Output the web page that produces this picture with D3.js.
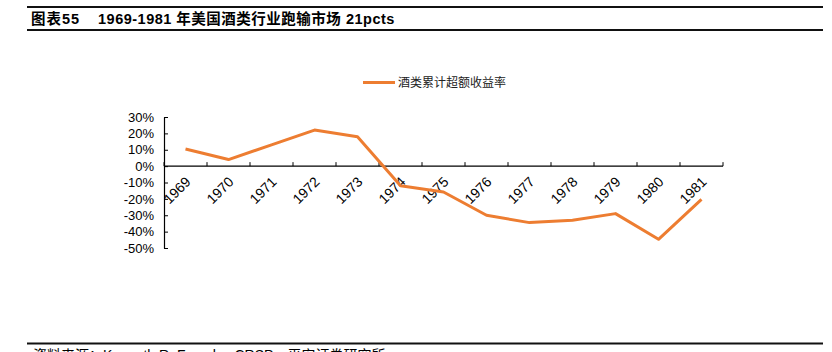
<!DOCTYPE html>
<html>
<head>
<meta charset="utf-8">
<script src="https://cdn.jsdelivr.net/npm/d3@7"></script>
<style>
  body { margin: 0; background: #fff; }
  text { font-family: "Liberation Sans", Arial, "Noto Sans CJK SC", sans-serif; }
</style>
</head>
<body>
<div id="chart-container"></div>
<script>
const years = ["1969", "1970", "1971", "1972", "1973", "1974", "1975",
  "1976", "1977", "1978", "1979", "1980", "1981"];
const excessReturn = [10.5, 4, 13, 22, 18, -12, -15.8, -30, -34.5, -33, -29, -44.7, -20.3];
const yTicks = [30, 20, 10, 0, -10, -20, -30, -40, -50];
const seriesName = "酒类累计超额收益率";
const figNo = "图表55";
const title = "1969-1981 年美国酒类行业跑输市场 21pcts";
const source = "资料来源：Kenneth R. French，CRSP，平安证券研究所";

const w = 832;
const h = 352;
const orange = "#ED7D31";

const svg = d3
  .select("#chart-container")
  .append("svg")
  .attr("width", w)
  .attr("height", h);

// title rules and text
svg.append("rect").attr("x", 27).attr("y", 6).attr("width", 796).attr("height", 2).attr("fill", "#111");
svg.append("rect").attr("x", 27).attr("y", 29).attr("width", 796).attr("height", 2).attr("fill", "#111");
svg
  .append("text")
  .attr("x", 31)
  .attr("y", 23.5)
  .attr("font-size", "14.5px")
  .attr("font-weight", "bold")
  .attr("letter-spacing", "1px")
  .attr("fill", "#000")
  .text(figNo);
svg
  .append("text")
  .attr("x", 98)
  .attr("y", 23.5)
  .attr("font-size", "14.5px")
  .attr("font-weight", "bold")
  .attr("letter-spacing", "0.5px")
  .attr("fill", "#000")
  .text(title);

// footer (cut by the bottom edge as in the original)
svg.append("rect").attr("x", 27).attr("y", 342.5).attr("width", 796).attr("height", 2).attr("fill", "#111");
svg
  .append("text")
  .attr("x", 33)
  .attr("y", 360)
  .attr("font-size", "14px")
  .attr("fill", "#000")
  .text(source);

// scales
const x = d3.scaleBand().domain(years).range([164, 723]);
const y = d3.scaleLinear().domain([-50, 30]).range([248, 117]);

// y axis
const yAxis = d3
  .axisLeft(y)
  .tickValues(yTicks)
  .tickSizeInner(-4)
  .tickSizeOuter(0)
  .tickPadding(10)
  .tickFormat((d) => d + "%");

const gy = svg.append("g").attr("transform", "translate(164,0)").call(yAxis);
gy.select(".domain").attr("stroke", "#000").attr("stroke-width", 1.2);
gy.selectAll(".tick line").attr("stroke", "#000");
gy.selectAll("text").attr("font-size", "13px").attr("fill", "#000").attr("font-family", "Liberation Sans, Arial, sans-serif");

// x axis at zero, ticks between categories
const boundaries = years.map((d) => x(d)).concat([x.range()[1]]);
const gx = svg.append("g").attr("transform", "translate(0," + y(0) + ")");
gx.append("line")
  .attr("x1", x.range()[0])
  .attr("x2", x.range()[1])
  .attr("stroke", "#000")
  .attr("stroke-width", 1.2);
gx.selectAll(".tk")
  .data(boundaries)
  .enter()
  .append("line")
  .attr("x1", (d) => d)
  .attr("x2", (d) => d)
  .attr("y1", 0)
  .attr("y2", -4)
  .attr("stroke", "#000");
gx.selectAll(".lbl")
  .data(years)
  .enter()
  .append("text")
  .attr("transform", (d) => "translate(" + (x(d) + x.bandwidth() / 2 + 6) + ",16.5) rotate(-45)")
  .attr("text-anchor", "end")
  .attr("font-size", "14px")
  .attr("fill", "#000")
  .text((d) => d);

// line
const line = d3
  .line()
  .x((d, i) => x(years[i]) + x.bandwidth() / 2)
  .y((d) => y(d));

svg
  .append("path")
  .datum(excessReturn)
  .attr("fill", "none")
  .attr("stroke", orange)
  .attr("stroke-width", 3)
  .attr("stroke-linejoin", "round")
  .attr("d", line);

// legend
svg.append("line")
  .attr("x1", 363).attr("x2", 395)
  .attr("y1", 82.5).attr("y2", 82.5)
  .attr("stroke", orange)
  .attr("stroke-width", 3);
svg
  .append("text")
  .attr("x", 398)
  .attr("y", 87)
  .attr("font-size", "12px")
  .attr("fill", "#222")
  .attr("font-family", "Noto Sans CJK SC, sans-serif")
  .text(seriesName);
</script>
</body>
</html>
